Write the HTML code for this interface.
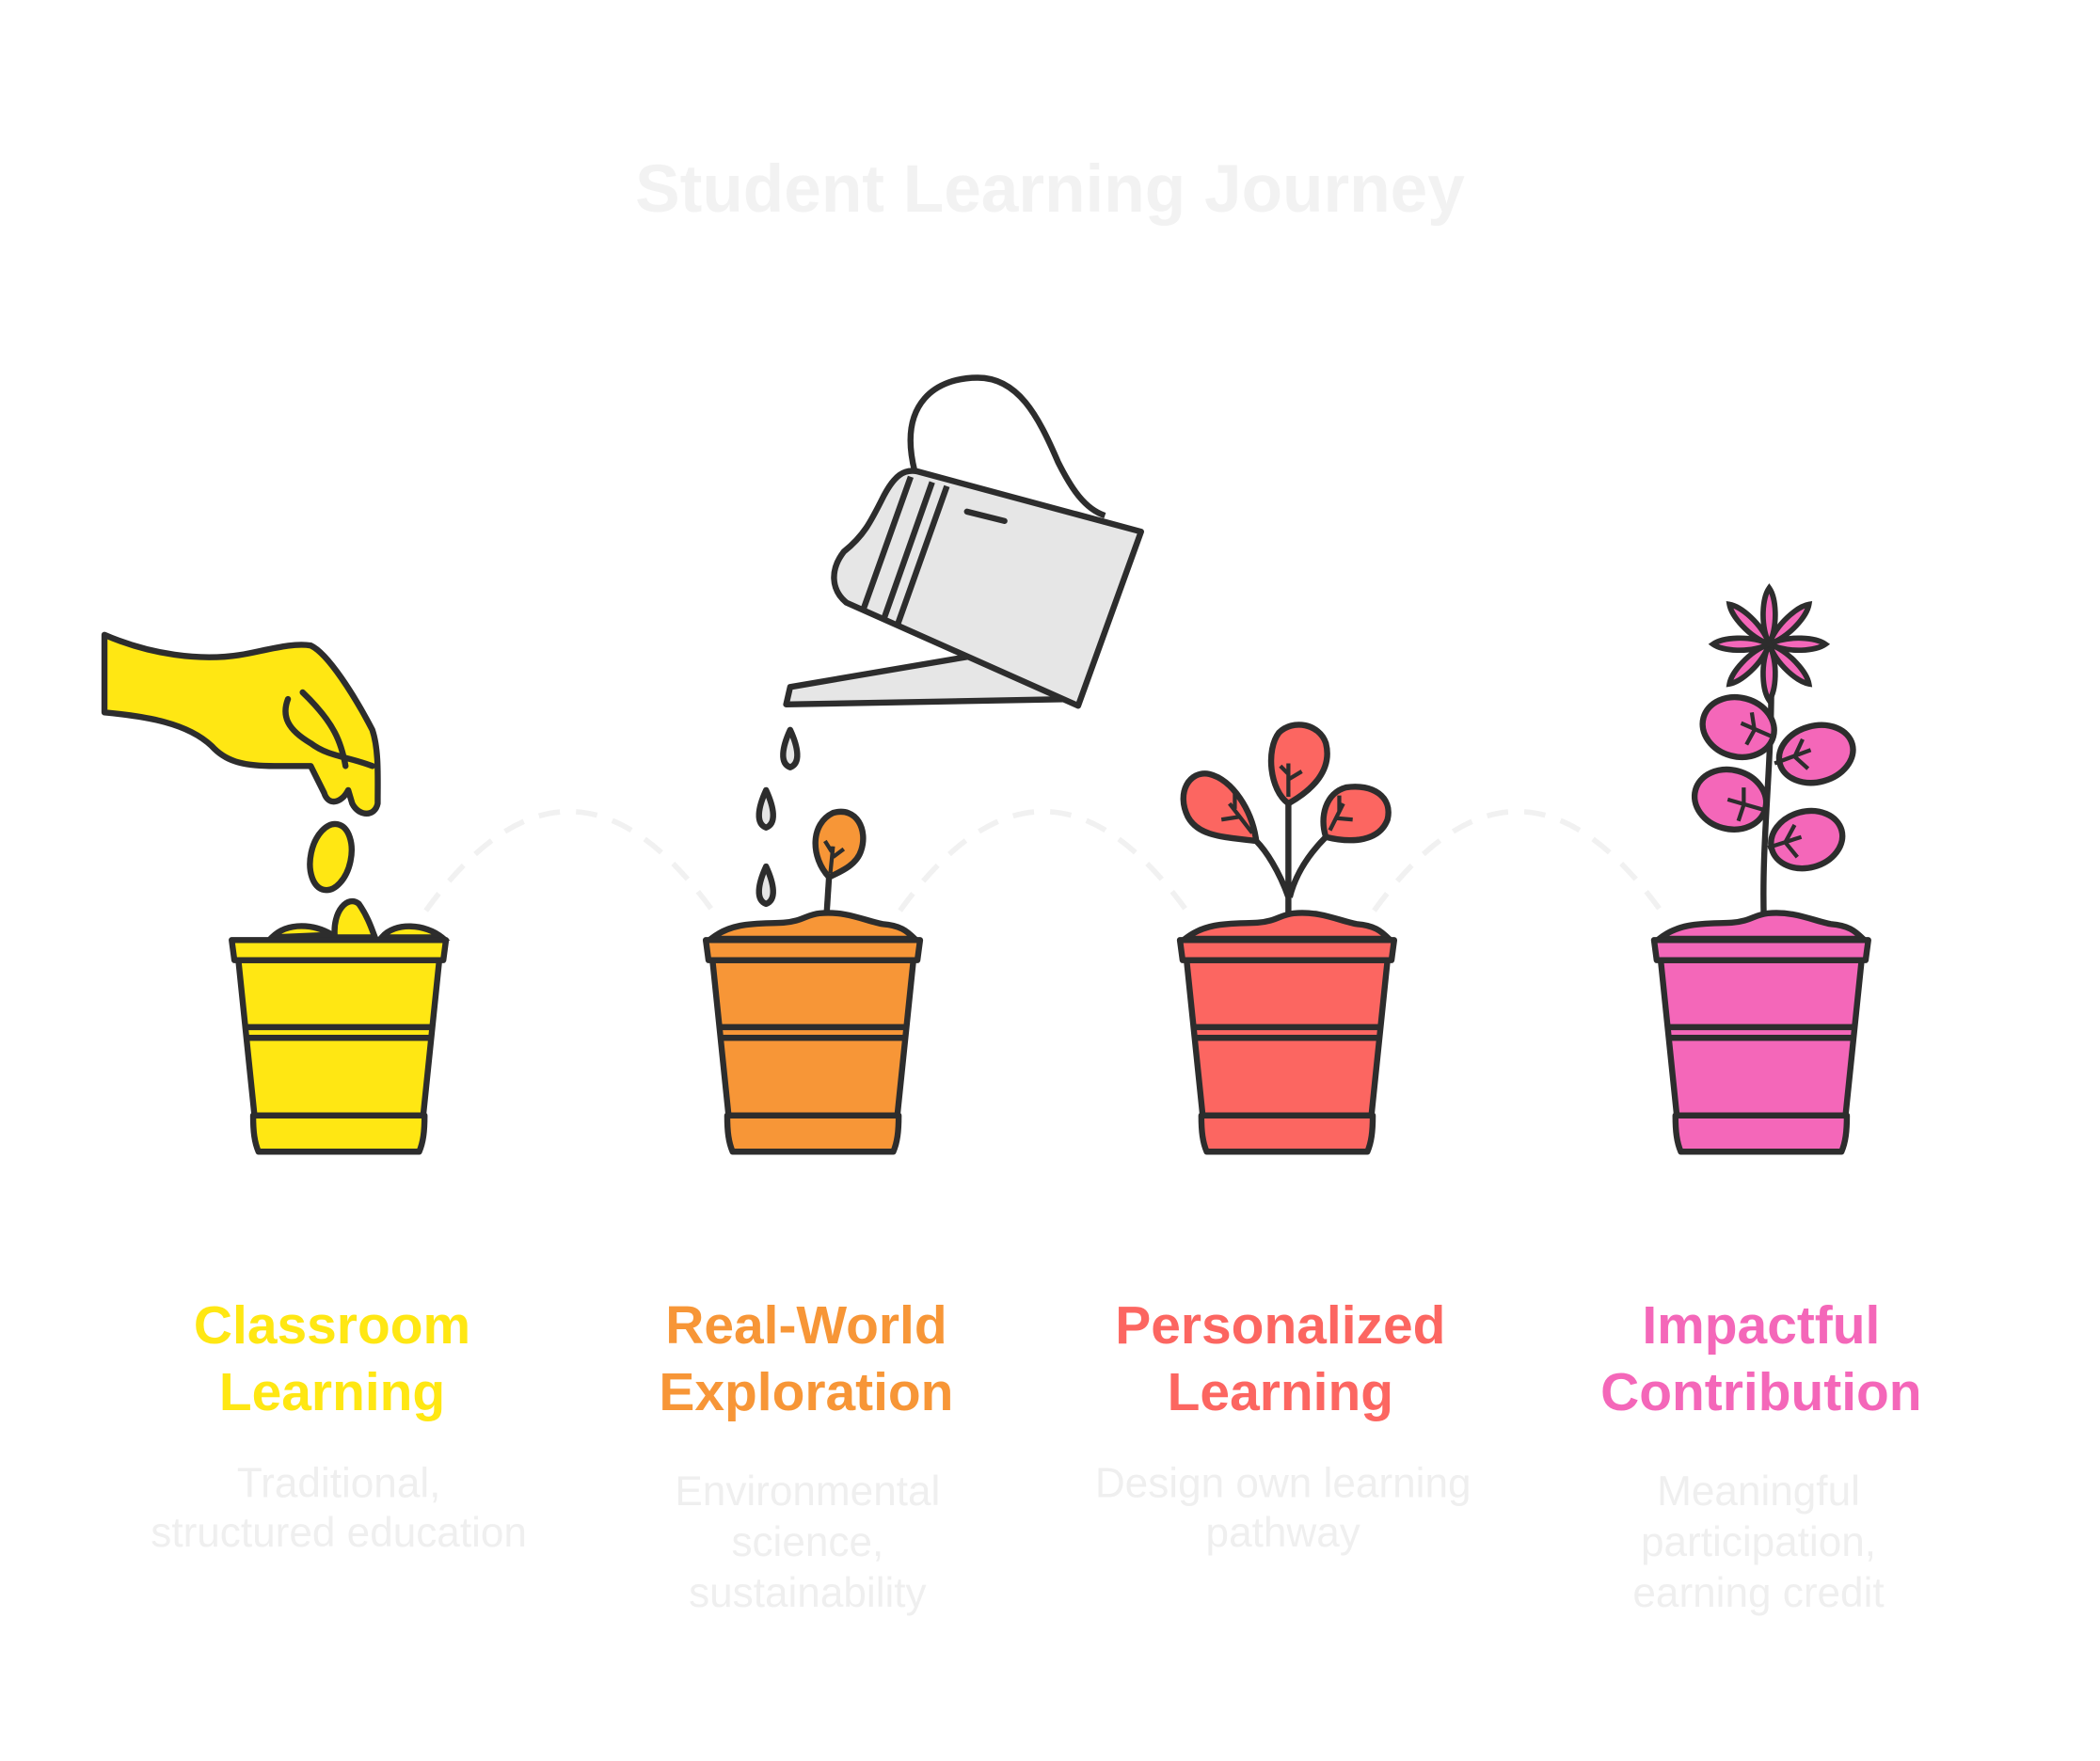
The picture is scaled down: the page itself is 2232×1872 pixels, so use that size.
<!DOCTYPE html>
<html><head><meta charset="utf-8"><style>
html,body{margin:0;padding:0;background:#fff}
svg{display:block}
text{font-family:"Liberation Sans",sans-serif}
</style></head><body>
<svg width="2232" height="1872" viewBox="0 0 1568 1315" xmlns="http://www.w3.org/2000/svg">
<rect width="1568" height="1315" fill="#fff"/>
<text x="784" y="158" text-anchor="middle" font-size="50" font-weight="bold" fill="#f2f2f2">Student Learning Journey</text>

<g fill="none" stroke="#f1f1f1" stroke-width="4" stroke-dasharray="16 12">
<path d="M318,680 Q425,532 532,680"/>
<path d="M672,680 Q779,532 886,680"/>
<path d="M1026,680 Q1133,532 1240,680"/>
</g>

<defs>
<g id="pot" stroke="#2d2d2d" stroke-width="4.5" stroke-linejoin="round">
<path d="M-75,717 L75,717 L63,833 L-63,833 Z"/>
<path d="M-80,702 L80,702 L78,717 L-78,717 Z"/>
<line x1="-70" y1="767" x2="70" y2="767"/>
<line x1="-69" y1="775" x2="69" y2="775"/>
<path d="M-64,833 L64,833 C64,845 63,853 60,860 L-60,860 C-63,853 -64,845 -64,833 Z"/>
</g>
<g id="soil" stroke="#2d2d2d" stroke-width="4.5">
<path d="M-76,701 C-60,688 -40,690 -22,689 C-8,688 -5,683 5,682 C25,680 40,688 52,690 C65,691 70,695 76,701 Z"/>
</g>
</defs>

<!-- Yellow -->
<g fill="#ffe713">
<path d="M78,474 C110,488 150,495 185,488 C205,484 220,480 232,482 C245,488 265,520 278,545 C283,560 282,580 282,600 C280,610 268,610 263,600 L260,590 C255,600 245,602 242,592 L232,572 L205,572 C180,572 168,568 158,557 C140,540 110,535 78,532 Z" stroke="#2d2d2d" stroke-width="4.5" stroke-linejoin="round"/>
<path d="M226,517 C250,540 255,555 258,572 M215,522 C210,535 215,545 232,555 C245,565 260,565 278,572" fill="none" stroke="#2d2d2d" stroke-width="4.5" stroke-linecap="round"/>
<ellipse cx="247" cy="640" rx="15" ry="25" transform="rotate(12 247 640)" stroke="#2d2d2d" stroke-width="4.5"/>
<path d="M203,700 C215,688 235,690 248,698 Z M285,700 C295,688 318,690 330,700 Z" stroke="#2d2d2d" stroke-width="4.5"/>
<path d="M250,700 C248,680 260,668 268,675 C275,685 278,695 280,700 Z" stroke="#2d2d2d" stroke-width="4.5"/>
<use href="#pot" x="253"/>
</g>

<!-- Watering can -->
<g stroke="#2d2d2d" stroke-width="4.5" stroke-linejoin="round" fill="#e6e6e6">
<path d="M683,352 C670,300 700,282 730,282 C760,282 775,310 790,345 C800,365 810,380 825,385" fill="none"/>
<path d="M725,490 L590,513 L587,526 L800,522 Z"/>
<path d="M685,352 L852,397 L805,527 L632,450 C620,440 620,425 630,412 C645,400 650,390 660,370 C668,355 675,350 685,352 Z"/>
<line x1="680" y1="356" x2="645" y2="454"/>
<line x1="696" y1="360" x2="660" y2="462"/>
<line x1="707" y1="363" x2="670" y2="467"/>
<line x1="722" y1="382" x2="750" y2="389" stroke-linecap="round"/>
<path d="M590,545 C584,558 582,570 590,573 C598,570 596,558 590,545 Z"/>
<path d="M572,590 C566,603 564,615 572,618 C580,615 578,603 572,590 Z"/>
<path d="M572,647 C566,660 564,672 572,675 C580,672 578,660 572,647 Z"/>
</g>

<!-- Orange -->
<g fill="#f79637">
<path d="M617,686 L619,655" stroke="#2d2d2d" stroke-width="4.5"/>
<path d="M619,655 C605,640 605,615 622,607 C640,602 648,620 643,635 C640,645 630,650 619,655 Z" stroke="#2d2d2d" stroke-width="4.5"/>
<path d="M620,652 L622,632 M622,640 L630,634 M621,636 L616,628" stroke="#2d2d2d" stroke-width="3" fill="none"/>
<use href="#soil" x="607"/>
<use href="#pot" x="607"/>
</g>

<!-- Red -->
<g fill="#fc6661" stroke="#2d2d2d" stroke-width="4.5">
<path d="M962,685 L962,600 M962,670 C955,650 945,635 938,628 M963,670 C968,650 980,635 990,625" fill="none"/>
<path d="M962,600 C948,590 945,560 955,547 C965,537 985,540 990,555 C995,575 980,590 962,600 Z"/>
<path d="M938,628 C915,625 895,625 887,610 C878,592 888,575 903,578 C920,582 935,605 938,628 Z"/>
<path d="M990,625 C985,610 990,592 1005,588 C1025,585 1040,595 1036,612 C1030,628 1010,630 990,625 Z"/>
<path d="M962,595 L962,570 M962,582 L972,576 M962,578 L956,572 M935,622 L918,600 M925,610 L912,612 M922,604 L922,592 M993,620 L1003,600 M998,611 L1010,612 M1000,606 L1000,594" fill="none" stroke-width="3"/>
<use href="#soil" x="961"/>
<use href="#pot" x="961"/>
</g>

<!-- Pink -->
<g fill="#f467b9" stroke="#2d2d2d" stroke-width="4.5">
<path d="M1317,686 C1315,620 1325,560 1322,482" fill="none"/>
<g transform="translate(1321,481)" stroke-width="4">
<path d="M0,0 C-7,-15 -5,-35 0,-42 C5,-35 7,-15 0,0 Z"/>
<path d="M0,0 C-7,-15 -5,-35 0,-42 C5,-35 7,-15 0,0 Z" transform="rotate(45)"/>
<path d="M0,0 C-7,-15 -5,-35 0,-42 C5,-35 7,-15 0,0 Z" transform="rotate(90)"/>
<path d="M0,0 C-7,-15 -5,-35 0,-42 C5,-35 7,-15 0,0 Z" transform="rotate(135)"/>
<path d="M0,0 C-7,-15 -5,-35 0,-42 C5,-35 7,-15 0,0 Z" transform="rotate(180)"/>
<path d="M0,0 C-7,-15 -5,-35 0,-42 C5,-35 7,-15 0,0 Z" transform="rotate(225)"/>
<path d="M0,0 C-7,-15 -5,-35 0,-42 C5,-35 7,-15 0,0 Z" transform="rotate(270)"/>
<path d="M0,0 C-7,-15 -5,-35 0,-42 C5,-35 7,-15 0,0 Z" transform="rotate(315)"/>
</g>
<ellipse cx="1298" cy="543" rx="27" ry="22" transform="rotate(15 1298 543)"/>
<ellipse cx="1356" cy="563" rx="28" ry="21" transform="rotate(-15 1356 563)"/>
<ellipse cx="1292" cy="597" rx="27" ry="22" transform="rotate(15 1292 597)"/>
<ellipse cx="1349" cy="627" rx="27" ry="21" transform="rotate(-15 1349 627)"/>
<path d="M1323,550 L1300,540 M1310,545 L1308,532 M1310,545 L1304,556 M1325,570 L1352,560 M1340,565 L1350,574 M1340,565 L1346,552 M1318,605 L1290,597 M1302,601 L1302,588 M1302,601 L1298,613 M1320,633 L1345,625 M1333,629 L1342,640 M1333,629 L1340,616" fill="none" stroke-width="3"/>
<use href="#soil" x="1315"/>
<use href="#pot" x="1315"/>
</g>

<g font-weight="bold" font-size="40" text-anchor="middle">
<text x="248" y="1003" fill="#ffe713">Classroom</text>
<text x="248" y="1053" fill="#ffe713">Learning</text>
<text x="602" y="1003" fill="#f79637">Real-World</text>
<text x="602" y="1053" fill="#f79637">Exploration</text>
<text x="956" y="1003" fill="#fc6661">Personalized</text>
<text x="956" y="1053" fill="#fc6661">Learning</text>
<text x="1315" y="1003" fill="#f467b9">Impactful</text>
<text x="1315" y="1053" fill="#f467b9">Contribution</text>
</g>
<g font-size="31" text-anchor="middle" fill="#efefef">
<text x="253" y="1118">Traditional,</text>
<text x="253" y="1155">structured education</text>
<text x="603" y="1124">Environmental</text>
<text x="603" y="1162">science,</text>
<text x="603" y="1200">sustainability</text>
<text x="958" y="1118">Design own learning</text>
<text x="958" y="1155">pathway</text>
<text x="1313" y="1124">Meaningful</text>
<text x="1313" y="1162">participation,</text>
<text x="1313" y="1200">earning credit</text>
</g>
</svg>
</body></html>
